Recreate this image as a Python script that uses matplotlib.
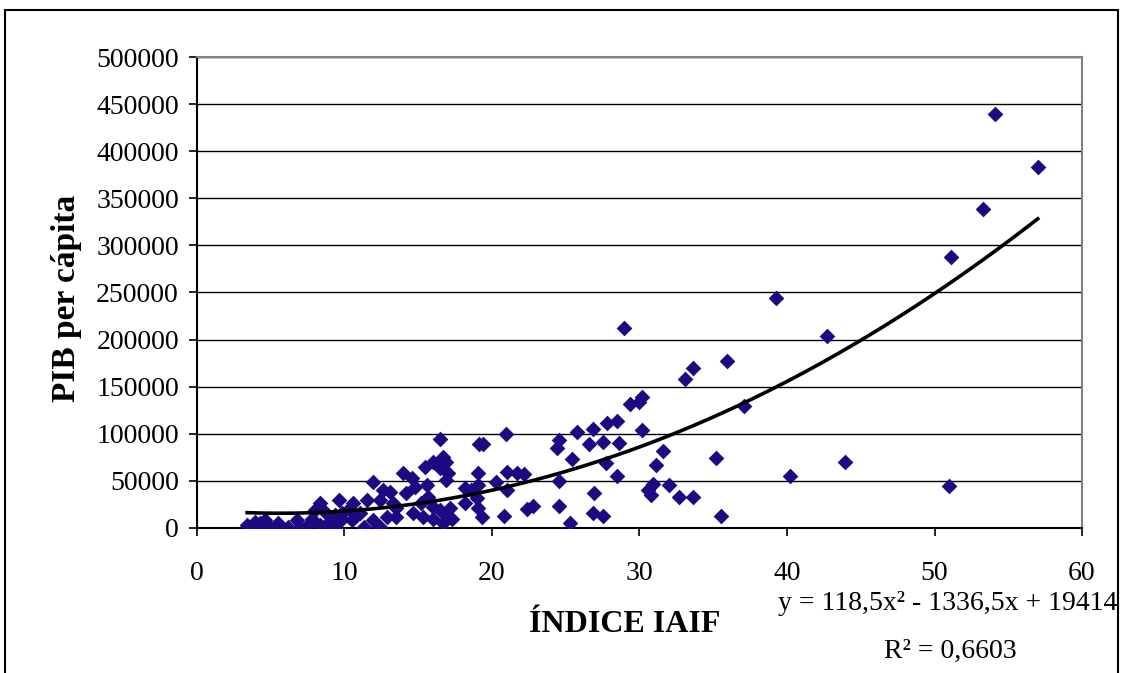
import numpy as np
import matplotlib.pyplot as plt
from matplotlib.patches import Rectangle

plt.rcParams['font.family'] = ['Liberation Serif', 'DejaVu Serif']

# IAIF index (x) and GDP per capita (y, thousands)
iaif = [3.4, 3.6, 3.9, 3.95, 4.3, 4.6, 4.85, 5.3, 5.5, 6.2, 6.75, 7.0, 7.55, 7.8,
        8.0, 8.35, 8.35, 8.7, 8.9, 9.35, 9.35, 9.6, 9.8, 9.8,
        10.3, 10.5, 10.6, 11.05, 11.3, 11.5, 11.95, 11.95, 12.4, 12.4, 12.6, 12.86,
        13.08, 13.3, 13.5, 13.5, 14.0, 14.2, 14.55, 14.67, 14.78, 15.2, 15.35, 15.46,
        15.57, 15.68, 16.0, 16.0, 16.0, 16.47, 16.5, 16.5, 16.7, 16.7, 16.9, 16.9,
        16.9, 17.0, 17.15, 17.27,
        18.17, 18.17, 18.6, 18.96, 19.07, 19.07, 19.07, 19.14, 19.4, 19.3, 20.3, 20.8,
        20.93, 21.0, 21.0, 21.67, 22.2, 22.35, 22.8, 24.43, 24.56, 24.56, 24.56, 25.3,
        25.4, 25.78,
        26.6, 26.87, 26.9, 26.87, 27.5, 27.55, 27.73, 27.78, 28.45, 28.5, 28.63, 28.95,
        29.36, 29.97, 30.15, 30.15, 30.6, 30.8, 30.9, 31.1, 31.57, 32.0, 32.7, 33.1,
        33.6, 33.6, 35.16, 35.5, 35.95, 37.06,
        39.25, 40.2, 42.7, 43.95, 50.96, 51.1, 53.3, 54.1, 57.0]
pib_k = [3.2, 0.8, 6.7, 0.5, 5, 8.5, 1.4, 0.5, 5, 1, 8.5, 1.4, 3.2, 10,
         19, 26, 3.2, 17.3, 5, 13.8, 1.4, 30, 10, 15.6,
         20, 8, 26, 15.6, 0.5, 29.7, 49, 8.5, 29.7, 1.4, 40, 12,
         38.5, 26, 12, 21, 58, 36.8, 52.8, 15.6, 43.8, 26, 12, 65,
         45.6, 33, 70, 10, 22.6, 19, 94, 63.7, 75.7, 5, 13.8, 51,
         70, 58, 21, 10,
         42, 26, 40, 31.5, 58.7, 45.6, 21, 89, 89, 12, 49, 12.7,
         99.8, 59.8, 40, 58, 57, 19.8, 23.4, 84.6, 93.4, 50.2, 23.4, 5.7,
         73, 101.6,
         89, 104.8, 37.5, 16, 91.6, 12.7, 68.7, 111.8, 114, 55, 90, 212,
         131.6, 134, 139, 104, 40, 35, 47, 67, 82, 45.6, 33, 158,
         170, 33, 74.6, 12.7, 177, 129,
         244, 55, 204, 70, 45, 288, 339, 440, 383]
pib = np.array(pib_k) * 1000

# polynomial trendline as printed on the chart
coef = [118.5, -1336.5, 19414]

fig = plt.figure(figsize=(11.23, 6.73), dpi=100)
ax = fig.add_axes([0.1754, 0.2155, 0.7881, 0.6998])

ax.scatter(iaif, pib, marker='D', s=64, color='#1C0A82', zorder=3, linewidths=0)
xs = np.linspace(min(iaif), max(iaif), 200)
ax.plot(xs, np.polyval(coef, xs), color='black', lw=2.6, zorder=4)

ax.set_xlim(0, 60)
ax.set_ylim(0, 500000)
ax.set_xticks(range(0, 61, 10))
ax.set_yticks(range(0, 500001, 50000))
ax.yaxis.grid(True, color='black', lw=1.0)
ax.set_axisbelow(True)
ax.tick_params(labelsize=20, direction='out', length=6, width=1.2, color='black')
ax.tick_params(axis='x', pad=18)
ax.tick_params(axis='y', pad=7)
for s in ['top', 'right']:
    ax.spines[s].set_color('#808080')
    ax.spines[s].set_linewidth(1.5)
for s in ['left', 'bottom']:
    ax.spines[s].set_color('black')
    ax.spines[s].set_linewidth(1.5)

fig.text(67 / 1123, 1 - 298 / 673, 'PIB per cápita', fontsize=24, fontweight='bold',
         rotation=90, ha='center', va='center')
fig.text(625 / 1123, 1 - 625 / 673, 'ÍNDICE IAIF', fontsize=23, fontweight='bold',
         ha='center', va='center')

fig.text(948 / 1123, 1 - 603 / 673, 'y = 118,5x² - 1336,5x + 19414', fontsize=20,
         ha='center', va='center')
fig.text(950 / 1123, 1 - 651 / 673, 'R² = 0,6603', fontsize=20,
         ha='center', va='center')

# outer chart frame
fig.patches.append(Rectangle((5 / 1123, -0.1), 1113 / 1123, 1.1 - 10 / 673,
                             transform=fig.transFigure, fill=False,
                             edgecolor='black', lw=1.5))

fig.savefig('out.png', dpi=100)
